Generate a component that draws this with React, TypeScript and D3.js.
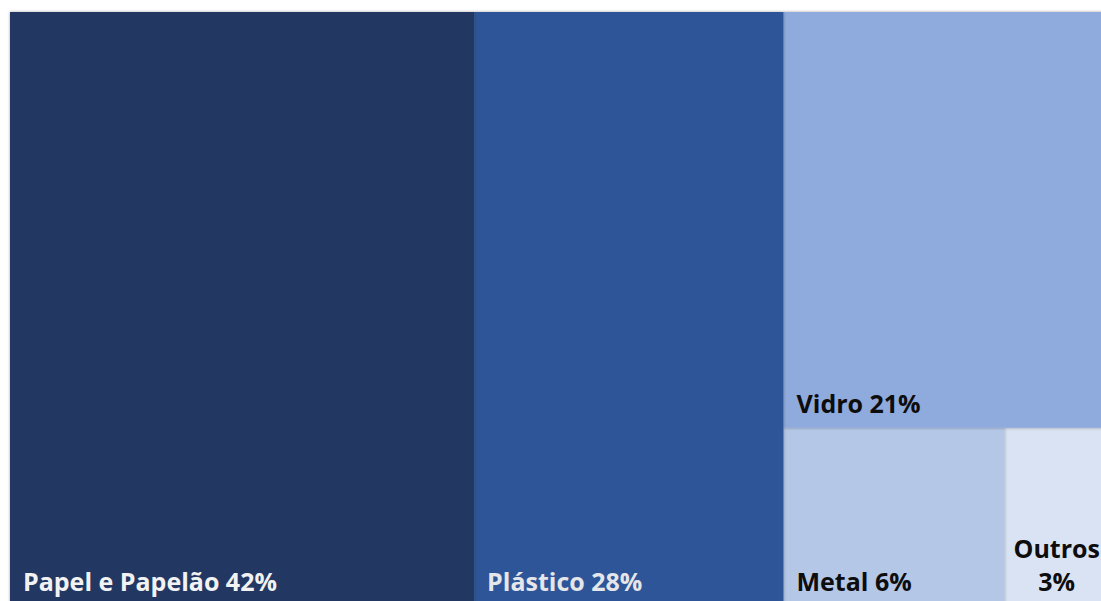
import React, { useMemo } from "react";
import * as d3 from "d3";

const categories = ["Papel e Papelão", "Plástico", "Vidro", "Metal", "Outros"];
const shares = [42, 28, 21, 6, 3];
const colors = ["#203864", "#2F5597", "#8FAADC", "#B4C7E7", "#DAE3F3"];
const textColors = ["#F2F2F2", "#E4E6EA", "#0D0D0D", "#0D0D0D", "#0D0D0D"];

const W = 1101;
const H = 601;
const X0 = 10;
const Y0 = 12;
const X1 = 1115;
const Y1 = 606;
const FONT = "bold 25px 'Open Sans'";
const PAD = 13;
const LINE = 33;

function measure(text: string): number {
  const c = document.createElement("canvas");
  const ctx = c.getContext("2d");
  if (!ctx) return text.length * 14;
  ctx.font = FONT;
  return ctx.measureText(text).width;
}

export default function App() {
  const leaves = useMemo(() => {
    const data = {
      name: "root",
      children: categories.map((c, i) => ({ name: c, value: shares[i], idx: i })),
    };
    const root = d3
      .hierarchy<any>(data)
      .sum((d: any) => d.value || 0);
    d3
      .treemap<any>()
      .tile(d3.treemapBinary)
      .size([X1 - X0, Y1 - Y0])
      .paddingInner(0)(root);
    return root.leaves() as any[];
  }, []);

  return (
    <svg
      width={W}
      height={H}
      style={{ position: "absolute", left: 0, top: 0, background: "#ffffff" }}
    >
      <defs>
        <filter id="sh" x="-5%" y="-5%" width="110%" height="110%">
          <feDropShadow dx="0" dy="0" stdDeviation="1.8" floodColor="#000" floodOpacity="0.35" />
        </filter>
      </defs>
      <g transform={`translate(${X0},${Y0})`}>
        {leaves
          .slice()
          .reverse()
          .map((l: any) => (
            <rect
              key={l.data.name}
              x={l.x0}
              y={l.y0}
              width={l.x1 - l.x0}
              height={l.y1 - l.y0}
              fill={colors[l.data.idx]}
              filter="url(#sh)"
            />
          ))}
        {leaves.map((l: any) => {
          const i = l.data.idx;
          const label = `${l.data.name} ${shares[i]}%`;
          const avail = l.x1 - l.x0 - 2 * PAD;
          const full = measure(label);
          const tc = textColors[i];
          if (full <= avail) {
            return (
              <text
                key={"t" + i}
                x={l.x0 + PAD}
                y={l.y1 - 15}
                fill={tc}
                style={{ font: FONT }}
              >
                {label}
              </text>
            );
          }
          const words = label.split(" ");
          const lines: string[] = [];
          let cur = "";
          words.forEach((w) => {
            const t = cur ? cur + " " + w : w;
            if (cur && measure(t) > avail) {
              lines.push(cur);
              cur = w;
            } else cur = t;
          });
          if (cur) lines.push(cur);
          const maxW = Math.max(...lines.map(measure));
          const cx = l.x0 + 9 + maxW / 2;
          return (
            <text key={"t" + i} fill={tc} textAnchor="middle" style={{ font: FONT }}>
              {lines.map((ln, j) => (
                <tspan key={j} x={cx} y={l.y1 - 15 - (lines.length - 1 - j) * LINE}>
                  {ln}
                </tspan>
              ))}
            </text>
          );
        })}
      </g>
    </svg>
  );
}
